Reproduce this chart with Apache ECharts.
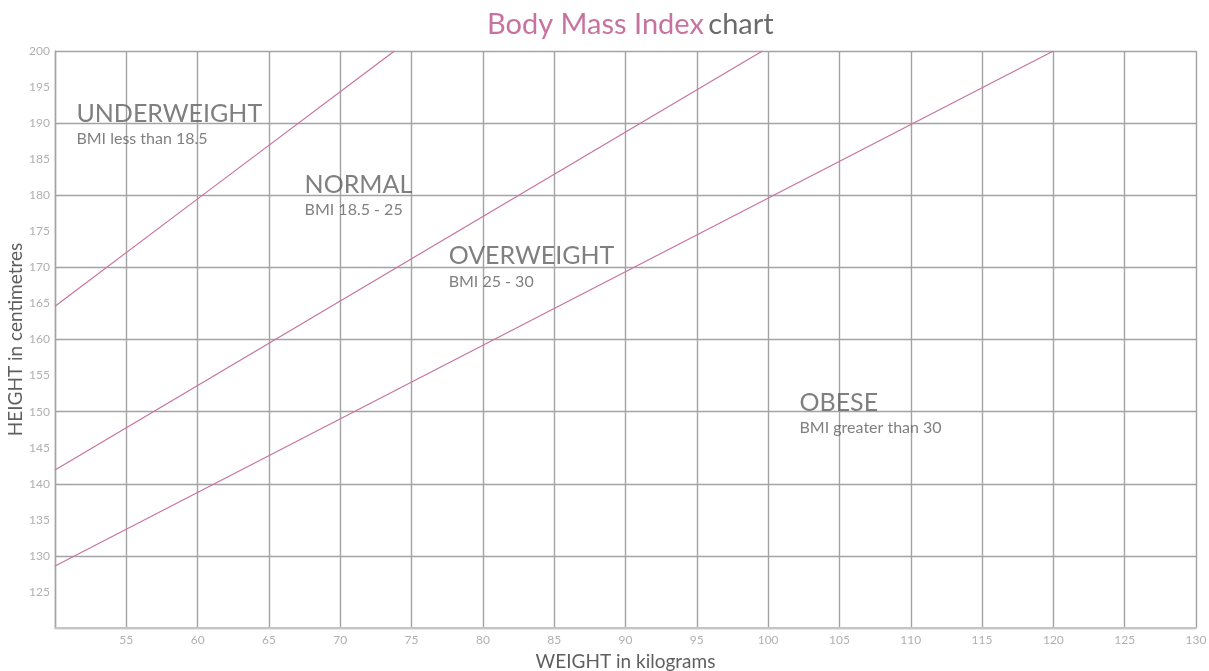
<!DOCTYPE html>
<html>
<head>
<meta charset="utf-8">
<script src="https://cdn.jsdelivr.net/npm/echarts@6/dist/echarts.min.js"></script>
<style>
html, body { margin: 0; padding: 0; background: #fff; }
#bmiChart { width: 1209px; height: 671px; }
</style>
</head>
<body>
<div id="bmiChart"></div>
<script>
// boundary lines: [weight kg, height cm]
const underweightLine = [[50, 164.6], [60, 179.5], [73.8, 200]]
const normalLine = [[50, 141.9], [75, 171.2], [99.6, 200]]
const overweightLine = [[50, 128.6], [85, 164.3], [120, 200]]

// zone captions: [weight, height, title, subtitle]
const zones = [
    [51.5, 189.8, 'UNDERWEIGHT', 'BMI less than 18.5'],
    [67.5, 179.9, 'NORMAL', 'BMI 18.5 - 25'],
    [77.6, 170.0, 'OVERWEIGHT', 'BMI 25 - 30'],
    [102.2, 149.7, 'OBESE', 'BMI greater than 30']
]

const font = 'Lato'
const pink = '#c8739f'
const textGray = '#5f5f5f'
const gridGray = '#a3a3a3'

var myChart = echarts.init(document.getElementById('bmiChart'))

const lineSeries = (data) => ({
    type: 'line',
    data,
    symbol: 'none',
    silent: true,
    lineStyle: { color: pink, width: 1.2 },
    z: 3
})

var option = {
    animation: false,
    textStyle: { fontFamily: font },
    title: {
        text: '{a|Body Mass Index} {b|chart}',
        left: 482,
        top: 5,
        textStyle: {
            rich: {
                a: { fontSize: 29, color: pink, fontFamily: font, fontWeight: 'normal' },
                b: { fontSize: 29, color: '#6b6b6b', fontFamily: font, fontWeight: 'normal' }
            }
        }
    },
    grid: { left: 55, right: 13, top: 51, bottom: 43, outerBoundsMode: 'none' },
    xAxis: {
        type: 'value',
        min: 50,
        max: 130,
        interval: 5,
        name: 'WEIGHT in kilograms',
        nameLocation: 'middle',
        nameGap: 24,
        nameMoveOverlap: false,
        nameTextStyle: { fontSize: 19, color: textGray, fontFamily: font },
        axisLine: { show: true, lineStyle: { color: '#c4c4c4', width: 2 } },
        axisTick: { show: false },
        axisLabel: { showMinLabel: false, color: '#b0b0b0', fontSize: 12, margin: 6 },
        splitLine: { show: true, lineStyle: { color: gridGray, width: 1.4 } }
    },
    yAxis: [
        {
            type: 'value',
            min: 120,
            max: 200,
            interval: 5,
            name: 'HEIGHT in centimetres',
            nameLocation: 'middle',
            nameGap: 30,
            nameMoveOverlap: false,
            nameTextStyle: { fontSize: 19, color: textGray, fontFamily: font },
            axisLine: { show: true, lineStyle: { color: gridGray, width: 1.4 } },
            axisTick: { show: false },
            axisLabel: { showMinLabel: false, color: '#b0b0b0', fontSize: 12, margin: 5 },
            splitLine: { show: false }
        },
        {
            // only every 10 cm gets a grid line
            type: 'value',
            min: 120,
            max: 200,
            interval: 10,
            position: 'left',
            axisLine: { show: false },
            axisTick: { show: false },
            axisLabel: { show: false },
            splitLine: { show: true, lineStyle: { color: gridGray, width: 1.4 } }
        }
    ],
    series: [
        lineSeries(underweightLine),
        lineSeries(normalLine),
        lineSeries(overweightLine),
        {
            type: 'scatter',
            data: zones,
            symbolSize: 0,
            silent: true,
            z: 4,
            label: {
                show: true,
                position: 'right',
                distance: 0,
                align: 'left',
                formatter: p => '{t|' + p.data[2] + '}\n{s|' + p.data[3] + '}',
                rich: {
                    t: { fontSize: 25, color: textGray, fontFamily: font, lineHeight: 28 },
                    s: { fontSize: 16, color: textGray, fontFamily: font, lineHeight: 22 }
                }
            }
        }
    ]
}
myChart.setOption(option)
</script>
</body>
</html>
